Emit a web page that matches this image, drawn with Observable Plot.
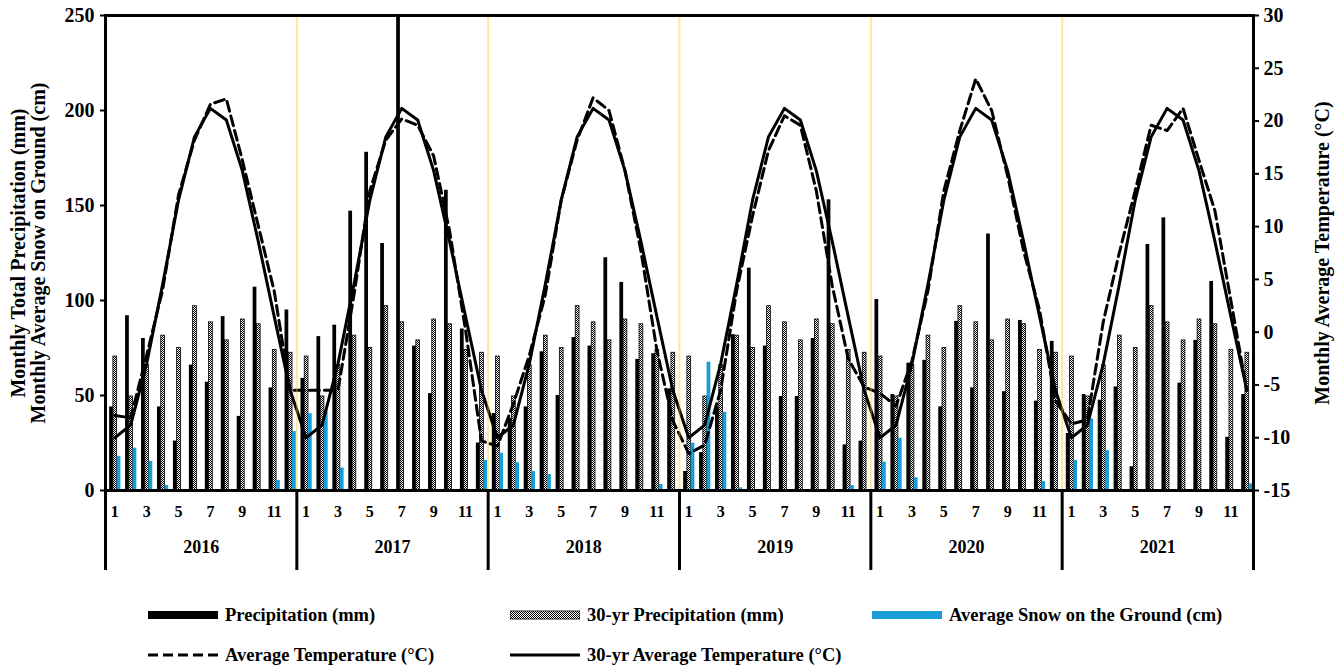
<!DOCTYPE html>
<html>
<head>
<meta charset="utf-8">
<script src="https://cdn.jsdelivr.net/npm/d3@7"></script>
<script src="https://cdn.jsdelivr.net/npm/@observablehq/plot@0.6"></script>
<style>
  body { margin: 0; background: #fff; }
  #wrap { position: relative; width: 1338px; height: 666px; font-family: "Liberation Serif", "Times New Roman", serif; font-weight: bold; color: #000; }
  #legend { position: absolute; left: 0; top: 590px; width: 1338px; height: 76px; }
  .item { position: absolute; display: flex; align-items: center; font-size: 18.5px; white-space: nowrap; }
  .item svg { margin-right: 7px; }
</style>
</head>
<body>
<div id="wrap">
  <div id="chart"></div>
  <div id="legend"></div>
</div>
<script>
// Monthly series, January 2016 to December 2021
const years = [2016, 2017, 2018, 2019, 2020, 2021];

const precipitation = [
  44, 92, 80, 44, 26, 66, 57, 91.5, 39, 107, 54, 95,
  59, 81, 87, 147, 178, 130, 265, 76, 51, 158, 85, 25,
  40.5, 38, 44, 73, 50, 80.5, 76, 122.5, 109.5, 69, 72, 53.5,
  10, 20, 44, 82, 117, 76, 49.5, 49.5, 80, 153, 24, 26,
  100.5, 50.5, 67, 68.5, 44, 89, 54, 135, 52, 89.5, 47, 78.5,
  30, 50.5, 47.5, 54.5, 12.5, 129.5, 143.5, 56.5, 79, 110, 28, 50.5
];

// 30-year normals, January to December
const normalPrecipitation = [70.5, 49.5, 66, 81.5, 75, 97, 88.5, 79, 90, 87.5, 74, 72.5];
const normalTemperature = [-10, -8.8, -3, 4.5, 12.5, 18.5, 21.2, 20.1, 15.3, 8.6, 1.5, -5.5];

const snowOnGround = [
  18, 22.3, 15.3, 2.6, 0, 0, 0, 0, 0, 0, 5.3, 31,
  40.4, 42, 11.8, 0, 0, 0, 0, 0, 0, 0, 0, 15.8,
  19.6, 14.6, 10, 8.4, 0, 0, 0, 0, 0, 0, 3.2, 0,
  24.9, 67.5, 41.2, 1.4, 0, 0, 0, 0, 0, 0, 2.6, 0,
  14.9, 27.5, 6.7, 0, 0, 0, 0, 0, 0, 0, 4.7, 0,
  15.8, 37.7, 21, 0, 0, 0, 0, 0, 0, 0, 0, 3.5
];

const temperature = [
  -7.9, -8.1, -2.2, 4.0, 13.0, 18.2, 21.6, 22.1, 16.3, 10.1, 3.9, -5.5,
  -5.5, -5.5, -5.5, 3.5, 13.4, 18.2, 20.2, 19.6, 16.7, 9.6, 0.2, -10.3,
  -10.8, -6.8, -2.2, 3.5, 12.5, 18.2, 22.2, 21.0, 15.3, 7.7, -1.7, -8.4,
  -11.5, -10.7, -5.5, 3.9, 11.0, 17.2, 20.5, 19.6, 13.4, 4.4, -2.5, -5.2,
  -5.8, -7.0, -2.7, 3.9, 13.4, 19.1, 24.0, 21.0, 14.8, 7.7, 2.1, -6.5,
  -8.7, -8.3, 1.0, 7.5, 13.4, 19.6, 19.1, 21.2, 16.3, 11.5, 3.0, -5.5
];

const precipTicks = [0, 50, 100, 150, 200, 250];
const tempTicks = [-15, -10, -5, 0, 5, 10, 15, 20, 25, 30];
const monthTicks = [1, 3, 5, 7, 9, 11];

// temperature shares the precipitation scale: -15..30 °C maps onto 0..250
const tMin = -15, tMax = 30, pMax = 250;
const t2y = (t) => (t - tMin) * pMax / (tMax - tMin);
const y2t = (y) => Math.round(y * (tMax - tMin) / pMax + tMin);

const months = d3.range(years.length * 12).map((k) => ({
  k,
  year: years[Math.floor(k / 12)],
  month: (k % 12) + 1,
  precip: precipitation[k],
  normal: normalPrecipitation[k % 12],
  snow: snowOnGround[k],
  temp: temperature[k],
  normalTemp: normalTemperature[k % 12]
}));

const yearBounds = d3.range(1, years.length).map((i) => i * 12);
const blue = "#189dd8";
const mid = 0.58;
const monthTickPos = months.filter((d) => monthTicks.includes(d.month)).map((d) => d.k + mid);
const yearTickPos = years.map((y, i) => i * 12 + 6);

const plot = Plot.plot({
  width: 1338,
  height: 590,
  marginLeft: 105,
  marginRight: 85,
  marginTop: 15,
  marginBottom: 100,
  style: { fontFamily: "Liberation Serif, Times New Roman, serif", fontSize: "20px", fontWeight: "bold", color: "#000", background: "#fff" },
  x: { type: "linear", domain: [0, years.length * 12] },
  y: { domain: [0, pMax] },
  marks: [
    Plot.rect(months, { x1: (d) => d.k + 0.26, x2: (d) => d.k + 0.495, y1: 0, y2: "precip", fill: "#000", clip: true }),
    Plot.rect(months, { x1: (d) => d.k + 0.495, x2: (d) => d.k + 0.73, y1: 0, y2: "normal", fill: "url(#checker)", stroke: "#000", strokeWidth: 0.8 }),
    Plot.rect(months, { x1: (d) => d.k + 0.73, x2: (d) => d.k + 0.965, y1: 0, y2: "snow", fill: blue }),
    Plot.line(months, { x: (d) => d.k + mid, y: (d) => t2y(d.normalTemp), stroke: "#000", strokeWidth: 3 }),
    Plot.line(months, { x: (d) => d.k + mid, y: (d) => t2y(d.temp), stroke: "#000", strokeWidth: 3, strokeDasharray: "10,5" }),
    // translucent year dividers inside the plot, drawn over the lines
    Plot.ruleX(yearBounds, { stroke: "#ffc000", strokeOpacity: 0.4, strokeWidth: 2 }),
    Plot.axisY(precipTicks, { anchor: "left", tickSize: 5, tickPadding: 6, strokeWidth: 2, label: null }),
    Plot.axisY(tempTicks.map(t2y), { anchor: "right", tickSize: 5, tickPadding: 5, strokeWidth: 2, tickFormat: (d) => String(y2t(d)), label: null }),
    // month numbers under each year
    Plot.axisX(monthTickPos, {
      tickSize: 0, tickPadding: 15, fontSize: 16,
      tickFormat: (d) => String(Math.round(d - mid) % 12 + 1), label: null
    }),
    // year labels
    Plot.axisX(yearTickPos, {
      tickSize: 0, tickPadding: 50, fontSize: 18,
      tickFormat: (d) => String(years[Math.round((d - 6) / 12)]), label: null
    }),
    // year dividers below the axis
    Plot.axisX(d3.range(0, years.length * 12 + 1, 12), { tickSize: 80, strokeWidth: 3, tickFormat: () => "", label: null }),
    Plot.frame({ stroke: "#000", strokeWidth: 3 }),
    Plot.text(["Monthly Total Precipitation (mm)\nMonthly Average Snow on Ground (cm)"], {
      frameAnchor: "left", dx: -77, rotate: -90, textAnchor: "middle", fontSize: 20, fontWeight: "bold", lineHeight: 1.0, text: (d) => d
    }),
    Plot.text(["Monthly Average Temperature (°C)"], {
      frameAnchor: "right", dx: 69, rotate: -90, textAnchor: "middle", fontSize: 20, fontWeight: "bold", text: (d) => d
    })
  ]
});

// checkerboard fill used by the 30-year precipitation bars
const defs = d3.select(plot).insert("defs", ":first-child");
const pat = defs.append("pattern").attr("id", "checker").attr("width", 2).attr("height", 2).attr("patternUnits", "userSpaceOnUse");
pat.append("rect").attr("width", 2).attr("height", 2).attr("fill", "#fff");
pat.append("rect").attr("width", 1).attr("height", 1).attr("fill", "#000");
pat.append("rect").attr("x", 1).attr("y", 1).attr("width", 1).attr("height", 1).attr("fill", "#000");

document.getElementById("chart").appendChild(plot);

// legend
const legendItems = [
  { label: "Precipitation (mm)", x: 148, y: 25, kind: "bar", fill: "#000" },
  { label: "30-yr Precipitation (mm)", x: 510, y: 25, kind: "bar", fill: "url(#checkerLegend)" },
  { label: "Average Snow on the Ground (cm)", x: 872, y: 25, kind: "bar", fill: blue },
  { label: "Average Temperature (°C)", x: 148, y: 65, kind: "line", dash: "10,5" },
  { label: "30-yr Average Temperature (°C)", x: 510, y: 65, kind: "line", dash: null }
];
const legend = d3.select("#legend");
legendItems.forEach((it) => {
  const div = legend.append("div").attr("class", "item").style("left", it.x + "px").style("top", (it.y - 11) + "px");
  const svg = div.append("svg").attr("width", 70).attr("height", 22);
  if (it.fill && it.fill.startsWith("url")) {
    const p = svg.append("defs").append("pattern").attr("id", "checkerLegend").attr("width", 2).attr("height", 2).attr("patternUnits", "userSpaceOnUse");
    p.append("rect").attr("width", 2).attr("height", 2).attr("fill", "#fff");
    p.append("rect").attr("width", 1).attr("height", 1).attr("fill", "#000");
    p.append("rect").attr("x", 1).attr("y", 1).attr("width", 1).attr("height", 1).attr("fill", "#000");
  }
  if (it.kind === "bar") {
    svg.append("rect").attr("x", 0).attr("y", 7).attr("width", 70).attr("height", 8).attr("fill", it.fill)
      .attr("stroke", it.fill.startsWith("url") ? "#000" : "none").attr("stroke-width", 0.8);
  } else {
    svg.append("line").attr("x1", 0).attr("x2", 70).attr("y1", 11).attr("y2", 11).attr("stroke", "#000").attr("stroke-width", 3)
      .attr("stroke-dasharray", it.dash);
  }
  div.append("span").text(it.label);
});
</script>
</body>
</html>
